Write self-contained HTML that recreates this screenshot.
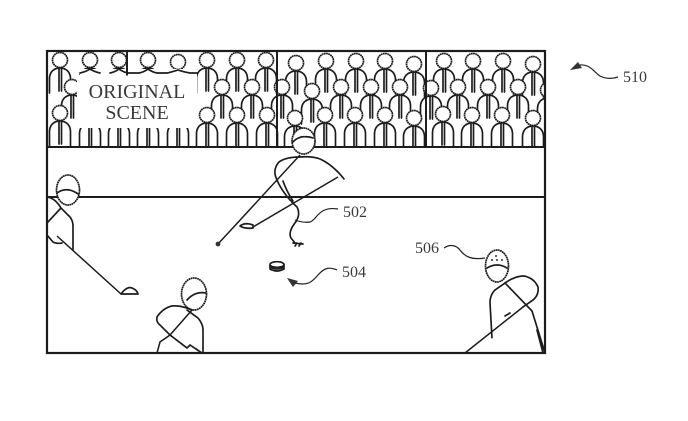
<!DOCTYPE html>
<html>
<head>
<meta charset="utf-8">
<style>
html,body{margin:0;padding:0;background:#fff;width:688px;height:421px;overflow:hidden}
svg{display:block}
text{font-family:"Liberation Serif",serif;fill:#3a3a3a;stroke:none}
.l{fill:none;stroke:#1c1c1c;stroke-width:1.7;stroke-dasharray:1.8 .4;stroke-linecap:round;stroke-linejoin:round}
.f{stroke:#1c1c1c;stroke-width:1.7;stroke-dasharray:1.8 .4;fill:#fff}
.s{fill:none;stroke:#1c1c1c;stroke-width:1.5}
.t{fill:none;stroke:#222;stroke-width:1.2}
.w{fill:#fff;stroke:none}
</style>
</head>
<body>
<svg width="688" height="421" viewBox="0 0 688 421" xmlns="http://www.w3.org/2000/svg">
<defs>
<clipPath id="c"><rect x="47" y="51" width="498" height="96"/></clipPath>
<g id="p">
<path class="w" d="M-10.500 33V19C-10.500 11-5 8 0 8C5 8 10.500 11 10.500 19V33Z"/>
<path class="l" d="M-10.500 33V19C-10.500 11-5 8 0 8C5 8 10.500 11 10.500 19V33"/>
<path class="l" d="M-1 9V31M1.500 9V31"/>
<circle class="f" r="7.500"/>
</g>
</defs>

<g clip-path="url(#c)">
<use href="#p" x="60" y="60"/><use href="#p" x="90" y="60"/><use href="#p" x="119" y="60"/><use href="#p" x="148" y="60"/><use href="#p" x="178" y="62"/><use href="#p" x="207" y="60"/><use href="#p" x="237" y="60"/><use href="#p" x="266" y="60"/>
<use href="#p" x="296" y="63"/><use href="#p" x="326" y="61"/><use href="#p" x="356" y="61"/><use href="#p" x="385" y="61"/><use href="#p" x="414" y="64"/>
<use href="#p" x="444" y="61"/><use href="#p" x="473" y="61"/><use href="#p" x="503" y="61"/><use href="#p" x="533" y="64"/>

<use href="#p" x="72" y="87"/><use href="#p" x="222" y="87"/><use href="#p" x="252" y="87"/><use href="#p" x="282" y="87"/>
<use href="#p" x="312" y="91"/><use href="#p" x="341" y="87"/><use href="#p" x="371" y="87"/><use href="#p" x="400" y="87"/>
<use href="#p" x="431" y="88"/><use href="#p" x="458" y="87"/><use href="#p" x="488" y="87"/><use href="#p" x="518" y="87"/><use href="#p" x="548" y="90"/>

<use href="#p" x="60" y="113"/><use href="#p" x="90" y="115"/><use href="#p" x="119" y="115"/><use href="#p" x="148" y="115"/><use href="#p" x="178" y="115"/><use href="#p" x="207" y="115"/><use href="#p" x="237" y="115"/><use href="#p" x="267" y="115"/>
<use href="#p" x="295" y="118"/><use href="#p" x="325" y="115"/><use href="#p" x="355" y="115"/><use href="#p" x="385" y="115"/><use href="#p" x="414" y="118"/>
<use href="#p" x="443" y="114"/><use href="#p" x="472" y="115"/><use href="#p" x="502" y="115"/><use href="#p" x="533" y="118"/>
</g>

<rect x="80" y="69" width="117" height="7" fill="#fff"/>
<path class="l" d="M80 73Q85 72 90 69Q95 72 100 73M110 73Q115 72 119 69Q123 72 128 73H139Q144 72 148 69Q152 72 157 73H167Q172 72 178 70Q184 72 190 73H197"/>
<rect x="77" y="75" width="120" height="53" fill="#fff"/>
<text x="137" y="98" font-size="20" text-anchor="middle">ORIGINAL</text>
<text x="137" y="119" font-size="20" text-anchor="middle">SCENE</text>

<path class="l" d="M127 51V75M277 51V147M426 51V147" style="stroke-width:2"/>
<path class="l" d="M47 147H545M47 197H545" style="stroke-width:1.900"/>
<rect x="47" y="51" width="498" height="302" fill="none" stroke="#1c1c1c" stroke-width="2.200"/>

<!-- center player -->
<ellipse class="f" cx="303.500" cy="141" rx="11.500" ry="13"/>
<path class="l" d="M293 142Q300 134 313 138"/>
<path class="l" d="M300 157Q286 157 279 162Q272 170 277 180Q283 194 297 207Q301 215 295 223Q288 232 291 238L295 243"/>
<path class="l" d="M300 157Q312 156 320 159Q333 165 344 179"/>
<path class="l" d="M283 181Q287 192 293 201"/>
<path class="s" d="M300 155L218 244M338 177L253 227"/>
<circle cx="218" cy="244" r="2.400" fill="#333"/>
<path class="l" d="M240 226Q245 222 253 225L253 228Q245 229 240 226Z"/>
<path class="l" d="M293 243L303 244M295 246L297 243M299 246L301 243"/>
<path class="t" d="M295 220Q303 223 310 222C317 220 318 206 338 209"/>
<text x="343" y="217" font-size="16">502</text>

<!-- puck -->
<ellipse class="l" cx="277" cy="264.500" rx="7" ry="2.800"/>
<path class="l" d="M270 265V269Q277 273 284 269V265M270 267Q277 271 284 267"/>
<path d="M287 278L298 281L293 287Z" fill="#333"/>
<path class="t" d="M295 283C308 286 312 282 318 275C325 267 330 267 337 270"/>
<text x="342" y="277" font-size="16">504</text>

<!-- left player -->
<ellipse class="f" cx="68" cy="190" rx="11.500" ry="15"/>
<path class="l" d="M57 193Q67 186 78 194"/>
<path class="l" d="M47 197Q55 198 61 208L47 223"/>
<path class="l" d="M61 208L70 217Q73 221 73 226V250"/>
<path class="l" d="M47 235L53 242Q57 244 62 243"/>
<path class="s" d="M57 236L121 294"/>
<path class="l" d="M121 294Q127 286 132 288Q137 290 138 294Z"/>

<!-- bottom player -->
<ellipse class="f" cx="194" cy="294" rx="12.500" ry="16"/>
<path class="l" d="M187 300Q195 291 206 293"/>
<path class="l" d="M192 310Q180 305 172 306Q163 308 157 317Q156 322 160 325L170 335L187 348L190 345L202 353"/>
<path class="l" d="M187 310L198 318Q203 324 203 330V353"/>
<path class="s" d="M192 310L170 335L160 342L157 353"/>

<!-- right player -->
<ellipse class="f" cx="497" cy="266" rx="11.500" ry="16"/>
<path class="l" d="M487 268Q497 262 507 268"/>
<circle cx="496" cy="256" r="1" fill="#333"/><circle cx="492" cy="260" r="1" fill="#333"/><circle cx="497" cy="260" r="1" fill="#333"/><circle cx="502" cy="260" r="1" fill="#333"/>
<path class="l" d="M505 283L495 290Q490 295 490 303L492 338"/>
<path class="l" d="M505 283Q515 276 524 276Q534 278 538 287Q539 295 533 300L523 307"/>
<path class="s" d="M523 307L465 353"/>
<path class="l" d="M505 283L532 311L545 353M537 330L543 353"/>
<path class="l" d="M505 316L510 313"/>

<path class="t" d="M444 248C450 244 456 245 460 250C465 257 472 260 485 258"/>
<text x="415" y="253" font-size="16">506</text>

<!-- 510 -->
<path d="M570 70L578 62L582 68Z" fill="#333"/>
<path class="t" d="M580 65C590 64 594 72 600 76C606 79 612 79 618 77"/>
<text x="623" y="82" font-size="16">510</text>
</svg>
</body>
</html>
